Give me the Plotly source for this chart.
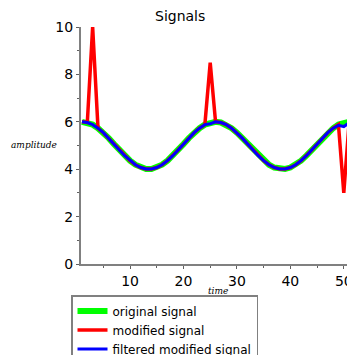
import plotly.graph_objects as go

time = list(range(1, 52))
original = [6.00, 5.97, 5.88, 5.73, 5.54, 5.31, 5.06, 4.81, 4.57, 4.36,
            4.19, 4.07, 4.01, 4.01, 4.07, 4.19, 4.36, 4.57, 4.81, 5.06,
            5.31, 5.54, 5.73, 5.88, 5.97, 6.00, 5.97, 5.88, 5.73, 5.54,
            5.31, 5.06, 4.81, 4.57, 4.36, 4.19, 4.07, 4.01, 4.01, 4.07,
            4.19, 4.36, 4.57, 4.81, 5.06, 5.31, 5.54, 5.73, 5.88, 5.97, 6.00]
modified = list(original)
modified[2] = 10.0
modified[24] = 8.5
modified[49] = 3.0
filtered = list(original)
filtered[23] = 5.88
filtered[24] = 5.92
filtered[48] = 5.85
filtered[49] = 5.80
filtered[50] = 5.95

fig = go.Figure()
fig.add_trace(go.Scatter(x=time, y=original, mode="lines", name="original signal",
                         line=dict(color="#00ff00", width=6)))
fig.add_trace(go.Scatter(x=time, y=modified, mode="lines", name="modified signal",
                         line=dict(color="#ff0000", width=3.5)))
fig.add_trace(go.Scatter(x=time, y=filtered, mode="lines", name="filtered modified signal",
                         line=dict(color="#0000ff", width=3)))

axis_common = dict(showline=True, linecolor="#808080", linewidth=2, showgrid=False,
                   zeroline=False, ticks="outside", ticklen=3, tickcolor="#606060",
                   automargin=False, ticklabeloverflow="allow",
                   tickfont=dict(family="DejaVu Sans", size=14, color="black"))
fig.update_xaxes(range=[0.82, 50.6], tick0=0, dtick=10,
                 minor=dict(dtick=5, ticks="outside", ticklen=2, tickcolor="#606060"),
                 **axis_common)
fig.update_yaxes(range=[0, 10], tick0=0, dtick=2,
                 minor=dict(dtick=1, ticks="outside", ticklen=2, tickcolor="#606060"),
                 **axis_common)

OFF = 8  # page body margin
W = 355 - 2 * OFF
H = 355 - OFF
PW = W - (81 - OFF)
fig.update_layout(
    width=W, height=H,
    margin=dict(l=81 - OFF, r=0, t=27 - OFF, b=H - (27 - OFF) - 237, autoexpand=False),
    plot_bgcolor="white", paper_bgcolor="white",
    font=dict(family="DejaVu Sans", size=14, color="black"),
    showlegend=True,
    legend=dict(x=(71 - OFF)/W, y=1-(295 - OFF)/H, xref="container", yref="container",
                xanchor="left", yanchor="top",
                bgcolor="white", bordercolor="#808080", borderwidth=1.5,
                font=dict(family="DejaVu Sans", size=12), tracegroupgap=0),
    annotations=[
        dict(text="Signals", x=(180-81)/PW, y=1, xref="paper", yref="paper", yshift=11,
             yanchor="middle", showarrow=False, font=dict(family="DejaVu Sans", size=14)),
        dict(text="<i>amplitude</i>", x=-(81-OFF)/PW, y=(264-145)/237, xref="paper", yref="paper",
             xanchor="left", yanchor="middle", xshift=1, showarrow=False,
             font=dict(family="DejaVu Serif", size=9)),
        dict(text="<i>time</i>", x=(218-81)/PW, y=(264-291)/237, xref="paper", yref="paper",
             xanchor="center", yanchor="middle", showarrow=False,
             font=dict(family="DejaVu Serif", size=9)),
    ],
)
fig.write_html("out.html")
